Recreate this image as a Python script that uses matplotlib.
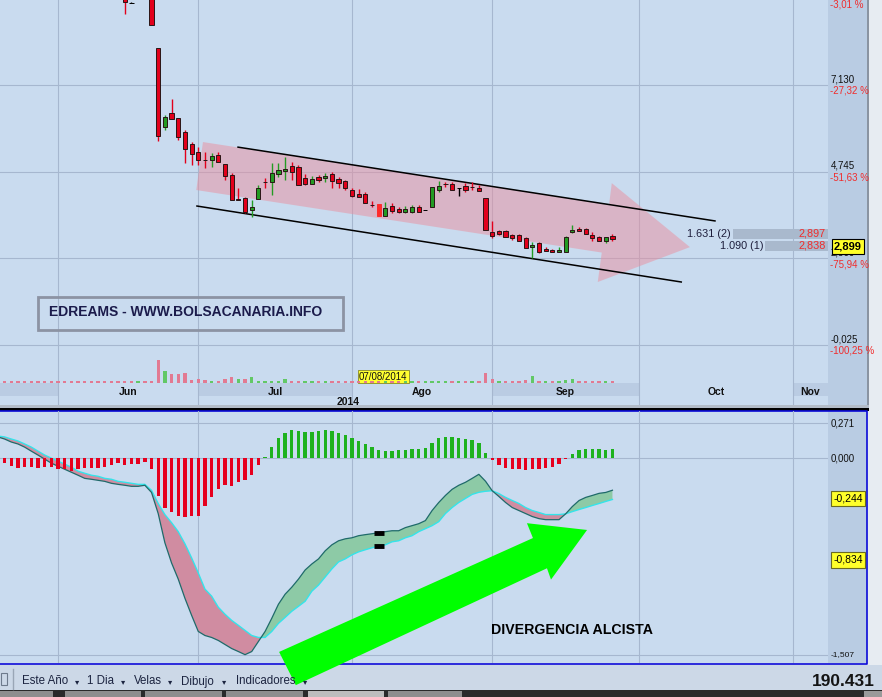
import matplotlib.pyplot as plt
import numpy as np
from matplotlib import font_manager
from matplotlib.patches import Rectangle, Polygon

# ---- data (x = trading day index, 0 = 2 Jun 2014) ----
day = np.arange(-9, 84)

opens = [10.35, 10.32, 10.28, 10.24, 10.20, 10.17, 10.15, 10.13, 10.11, 10.08, 10.05, 10.02, 9.99,
         9.96, 9.93, 9.90, 9.87, 9.84, 9.81, 9.74, 9.38, 9.50, 9.66, 9.60, 8.15, 5.97, 6.36, 6.22,
         5.84, 5.51, 5.29, 5.08, 5.08, 5.20, 4.96, 4.65, 3.98, 4.02, 3.69, 3.99, 4.47, 4.46, 4.68,
         4.76, 4.90, 4.87, 4.57, 4.41, 4.60, 4.57, 4.68, 4.54, 4.49, 4.24, 4.13, 4.13, 3.84, 3.86,
         3.53, 3.80, 3.72, 3.64, 3.64, 3.77, 3.69, 3.77, 4.24, 4.41, 4.41, 4.30, 4.35, 4.33, 4.30,
         4.02, 3.09, 3.11, 3.11, 3.00, 3.00, 2.92, 2.67, 2.78, 2.62, 2.59, 2.54, 2.54, 3.09, 3.17,
         3.17, 3.00, 2.95, 2.84, 2.98]
highs = [10.43, 10.40, 10.36, 10.32, 10.28, 10.25, 10.23, 10.21, 10.19, 10.16, 10.13, 10.10, 10.07,
         10.04, 10.01, 9.98, 9.95, 9.92, 9.89, 9.80, 9.40, 9.72, 9.80, 9.66, 8.15, 6.30, 6.75, 6.22,
         5.89, 5.56, 5.42, 5.29, 5.26, 5.29, 4.96, 4.71, 4.30, 4.05, 3.97, 4.38, 4.57, 4.98, 4.98,
         5.15, 5.01, 4.93, 4.68, 4.63, 4.65, 4.71, 4.74, 4.60, 4.52, 4.30, 4.27, 4.19, 3.94, 3.86,
         3.91, 3.88, 3.77, 3.80, 3.83, 3.83, 3.70, 4.32, 4.49, 4.46, 4.46, 4.30, 4.43, 4.46, 4.38,
         4.02, 3.39, 3.14, 3.14, 3.03, 3.03, 2.95, 2.81, 2.80, 2.67, 2.62, 2.67, 2.97, 3.28, 3.22,
         3.19, 3.09, 2.97, 2.95, 3.03]
lows = [10.22, 10.18, 10.14, 10.10, 10.07, 10.04, 10.02, 10.00, 9.97, 9.94, 9.91, 9.88, 9.85,
        9.82, 9.79, 9.76, 9.73, 9.70, 9.67, 9.08, 9.38, 9.50, 9.52, 8.78, 5.59, 5.89, 6.19, 5.62,
        4.98, 4.93, 4.93, 4.85, 4.87, 5.01, 4.52, 3.97, 3.96, 3.61, 3.50, 3.99, 4.30, 4.10, 4.60,
        4.52, 4.52, 4.38, 4.38, 4.41, 4.46, 4.46, 4.30, 4.30, 4.24, 4.05, 4.05, 3.88, 3.77, 3.53,
        3.53, 3.61, 3.61, 3.61, 3.61, 3.64, 3.68, 3.77, 4.19, 4.32, 4.24, 4.08, 4.19, 4.24, 4.21,
        3.14, 2.92, 3.00, 2.95, 2.87, 2.84, 2.65, 2.37, 2.50, 2.56, 2.53, 2.53, 2.53, 3.06, 3.11,
        3.03, 2.84, 2.84, 2.78, 2.84]
closes = [10.30, 10.26, 10.22, 10.18, 10.15, 10.12, 10.10, 10.08, 10.05, 10.02, 9.99, 9.96, 9.93,
          9.90, 9.87, 9.84, 9.81, 9.78, 9.75, 9.42, 9.38, 9.66, 9.60, 8.78, 5.73, 6.25, 6.19, 5.70,
          5.37, 5.23, 5.07, 5.06, 5.18, 5.01, 4.63, 3.97, 3.97, 3.64, 3.77, 4.30, 4.45, 4.71, 4.79,
          4.82, 4.74, 4.38, 4.41, 4.54, 4.52, 4.63, 4.49, 4.43, 4.30, 4.08, 4.05, 3.88, 3.83, 3.53,
          3.75, 3.66, 3.64, 3.72, 3.77, 3.64, 3.69, 4.32, 4.35, 4.40, 4.24, 4.30, 4.24, 4.32, 4.21,
          3.14, 2.98, 3.03, 2.95, 2.92, 2.84, 2.65, 2.73, 2.54, 2.56, 2.54, 2.59, 2.95, 3.14, 3.11,
          3.03, 2.92, 2.84, 2.95, 2.90]
volume = [0.34, 0.32, 0.34, 0.30, 0.34, 0.32, 0.34, 0.30, 0.34, 0.32, 0.34, 0.30, 0.34, 0.32, 0.34,
          0.30, 0.34, 0.32, 0.34, 0.36, 0.34, 0.32, 0.34, 0.40, 4.54, 2.34, 1.86, 1.86, 2.00, 0.54,
          0.74, 0.66, 0.40, 0.34, 0.74, 1.20, 0.80, 0.80, 1.20, 0.40, 0.40, 0.40, 0.34, 0.86, 0.34,
          0.34, 0.32, 0.34, 0.30, 0.34, 0.32, 0.34, 0.30, 0.34, 0.32, 0.34, 0.30, 0.34, 0.32, 0.34,
          0.30, 0.34, 0.32, 0.34, 0.30, 0.34, 0.32, 0.34, 0.30, 0.34, 0.32, 0.34, 0.30, 2.00, 0.86,
          0.34, 0.34, 0.46, 0.40, 0.66, 1.34, 0.40, 0.30, 0.30, 0.40, 0.66, 0.86, 0.30, 0.30, 0.30,
          0.30, 0.30, 0.30]
macd = [0.165, 0.149, 0.126, 0.111, 0.087, 0.056, 0.026, -0.005, -0.036, -0.060, -0.083, -0.106,
        -0.129, -0.153, -0.160, -0.168, -0.176, -0.191, -0.199, -0.206, -0.214, -0.214, -0.206,
        -0.261, -0.423, -0.647, -0.802, -0.926, -1.073, -1.204, -1.328, -1.359, -1.374, -1.397,
        -1.428, -1.459, -1.482, -1.506, -1.482, -1.405, -1.328, -1.227, -1.119, -1.042, -0.988,
        -0.926, -0.856, -0.810, -0.771, -0.709, -0.663, -0.632, -0.617, -0.609, -0.593, -0.585,
        -0.578, -0.570, -0.562, -0.555, -0.555, -0.531, -0.516, -0.501, -0.477, -0.400, -0.338,
        -0.284, -0.237, -0.206, -0.183, -0.153, -0.122, -0.175, -0.248, -0.292, -0.338, -0.377,
        -0.400, -0.423, -0.446, -0.462, -0.470, -0.470, -0.470, -0.425, -0.369, -0.323, -0.299,
        -0.284, -0.268, -0.261, -0.244]
signal = [0.172, 0.165, 0.149, 0.134, 0.111, 0.087, 0.056, 0.026, 0.002, -0.021, -0.044, -0.067,
          -0.098, -0.114, -0.129, -0.137, -0.153, -0.160, -0.176, -0.183, -0.191, -0.199, -0.199,
          -0.245, -0.346, -0.431, -0.493, -0.562, -0.655, -0.763, -0.879, -1.003, -1.057, -1.142,
          -1.196, -1.243, -1.281, -1.320, -1.359, -1.374, -1.374, -1.328, -1.266, -1.220, -1.173,
          -1.135, -1.096, -1.019, -0.972, -0.910, -0.848, -0.794, -0.771, -0.740, -0.717, -0.701,
          -0.686, -0.671, -0.663, -0.640, -0.632, -0.609, -0.593, -0.562, -0.539, -0.516, -0.485,
          -0.423, -0.377, -0.338, -0.307, -0.276, -0.260, -0.252, -0.248, -0.270, -0.299, -0.323,
          -0.346, -0.377, -0.400, -0.415, -0.431, -0.431, -0.431, -0.425, -0.408, -0.392, -0.377,
          -0.361, -0.346, -0.330, -0.315]
hist = [-0.030, -0.037, -0.058, -0.076, -0.066, -0.066, -0.071, -0.066, -0.066, -0.084, -0.084,
        -0.097, -0.084, -0.076, -0.076, -0.071, -0.066, -0.050, -0.032, -0.050, -0.045, -0.045,
        -0.025, -0.084, -0.290, -0.381, -0.414, -0.445, -0.453, -0.439, -0.445, -0.362, -0.295,
        -0.238, -0.207, -0.213, -0.182, -0.166, -0.130, -0.050, 0.014, 0.091, 0.156, 0.192, 0.218,
        0.213, 0.205, 0.205, 0.213, 0.218, 0.213, 0.195, 0.179, 0.156, 0.135, 0.110, 0.091, 0.066,
        0.058, 0.058, 0.066, 0.066, 0.076, 0.076, 0.079, 0.118, 0.156, 0.166, 0.161, 0.156, 0.148,
        0.141, 0.122, 0.040, -0.014, -0.053, -0.071, -0.079, -0.084, -0.091, -0.084, -0.084,
        -0.076, -0.063, -0.045, -0.002, 0.032, 0.066, 0.076, 0.076, 0.071, 0.066, 0.071]

month_start = [0, 21, 44, 65, 87, 110]
month_name = ['Jun', 'Jul', 'Ago', 'Sep', 'Oct', 'Nov']
price_ticks = [9.515, 7.130, 4.745, 2.360, -0.025]
ref_close = 9.81
macd_ticks = [0.271, 0.000, -1.507]
last_close = 2.899
selected = 48          # 07/08/2014
orders = [('1.631 (2)', '2,897'), ('1.090 (1)', '2,838')]
toolbar_items = ['Este Año', '1 Dia', 'Velas', 'Dibujo', 'Indicadores']

# hand-drawn objects (chart coordinates)
chan_up_x, chan_up_y = [26.95, 98.35], [5.42, 3.39]
chan_lo_x, chan_lo_y = [20.8, 93.3], [3.80, 1.71]
parrow_x = [21.7, 82.5, 82.9, 94.6, 80.8, 81.4, 20.7]
parrow_y = [5.56, 3.84, 4.43, 2.67, 1.71, 2.52, 4.24]
garrow_x = [33.1, 71.1, 70.2, 79.2, 73.8, 73.2, 35.6]
garrow_y = [-1.485, -0.611, -0.497, -0.549, -0.930, -0.843, -1.740]

# ---- style ----
W, H = 882, 697
XMIN, XMAX = -58 / 6.68, 770 / 6.68
PMIN, PMAX = -1.0686, 9.468
BG = '#c9dbef'
STRIP = '#b9cce3'
BAND = '#bacce3'
GRID = '#a6b7cf'
C_UP, C_DN, C_EDGE = '#239b23', '#e2001b', '#2a1515'
PCTRED = '#f02c2c'
BLUE = '#0a0ad8'

names = {f.name for f in font_manager.fontManager.ttflist}
plt.rcParams['font.family'] = ['Liberation Sans', 'DejaVu Sans']

fig = plt.figure(figsize=(W / 100, H / 100), dpi=100, facecolor='#e7ecf2')


def box(x0, y0, x1, y1):
    return [x0 / W, 1 - y1 / H, (x1 - x0) / W, (y1 - y0) / H]


bg = fig.add_axes([0, 0, 1, 1], zorder=-5)
fg = fig.add_axes([0, 0, 1, 1], zorder=20)
for a in (bg, fg):
    a.set_xlim(0, W)
    a.set_ylim(H, 0)
    a.axis('off')

# backgrounds and frame
bg.add_patch(Rectangle((0, 0), 828, 405, fc=BG, lw=0))
bg.add_patch(Rectangle((828, 0), 39, 407, fc=STRIP, lw=0))
bg.add_patch(Rectangle((867, 0), 2, 407, fc='#8a94a2', lw=0))
bg.add_patch(Rectangle((0, 404.5), 869, 3, fc='#b3bcc8', lw=0))
bg.add_patch(Rectangle((0, 407.5), 869, 3, fc='black', lw=0))
bg.add_patch(Rectangle((0, 411), 828, 252, fc=BG, lw=0))
bg.add_patch(Rectangle((828, 411), 39, 252, fc=STRIP, lw=0))
bg.plot([0, 867, 867, 0], [411, 411, 663.5, 663.5], color=BLUE, lw=1.2)
bg.add_patch(Rectangle((0, 664.5), W, 26, fc='#ccd8e7', lw=0))
bg.add_patch(Rectangle((0, 690), W, 7, fc='#2a2a2a', lw=0))
for x0, x1, fc in [(0, 53, '#8e8e8e'), (65, 141, '#8e8e8e'), (145, 222, '#8e8e8e'),
                   (226, 303, '#8e8e8e'), (308, 384, '#bdbdbd'), (388, 462, '#8e8e8e'),
                   (864, 882, '#9a9a9a')]:
    bg.add_patch(Rectangle((x0, 691), x1 - x0, 6, fc=fc, lw=0))


def bare(a):
    a.set_facecolor('none')
    for s in a.spines.values():
        s.set_visible(False)
    a.set_xticks([])
    a.set_yticks([])
    a.set_xlim(XMIN, XMAX)


ax_p = fig.add_axes(box(0, 0, 828, 383))
ax_v = fig.add_axes(box(0, 343, 828, 383))
ax_b = fig.add_axes(box(0, 383, 828, 405))
ax_m = fig.add_axes(box(0, 411, 828, 663))
for a in (ax_p, ax_v, ax_b, ax_m):
    bare(a)
ax_p.set_ylim(PMIN, PMAX)
ax_v.set_ylim(0, 8)
ax_b.set_ylim(0, 1)
ax_m.set_ylim(-1.570, 0.364)

# ---- gridlines ----
for v in price_ticks:
    ax_p.axhline(v, color=GRID, lw=0.8, zorder=0)
for v in macd_ticks:
    ax_m.axhline(v, color=GRID, lw=0.8, zorder=0)
for m in month_start:
    for a in (ax_p, ax_b, ax_m):
        a.axvline(m, color=GRID, lw=0.8, zorder=0.5)

# ---- x-axis band ----
edges = [XMIN] + month_start + [XMAX]
for i in range(0, len(edges) - 1, 2):
    ax_b.axvspan(edges[i], edges[i + 1], ymin=0.41, ymax=1, color=BAND, lw=0, zorder=0)
for i, name in enumerate(month_name):
    right = month_start[i + 1] if i + 1 < len(month_start) else XMAX
    ax_b.text((month_start[i] + right) / 2, 0.6, name, ha='center', va='center',
              fontsize=7.5, fontweight='bold', color='#111111')
ax_b.text(43.4, 0.12, '2014', ha='center', va='center', fontsize=7.5,
          fontweight='bold', color='#111111', clip_on=True)

# ---- price chart ----
ax_p.add_patch(Polygon(np.column_stack([parrow_x, parrow_y]), closed=True,
                       fc='#ea8f9e', alpha=0.5, lw=0, zorder=1))
ax_p.plot(chan_up_x, chan_up_y, color='black', lw=1.1, zorder=2)
ax_p.plot(chan_lo_x, chan_lo_y, color='black', lw=1.1, zorder=2)

o, h, l, c = (np.asarray(v) for v in (opens, highs, lows, closes))
face = np.where(c > o, C_UP, np.where(c < o, C_DN, 'black')).astype(object)
edge = np.where(c == o, 'black', C_EDGE).astype(object)
sel = day == selected
face[sel] = '#ff2b2b'
edge[sel] = '#ff2b2b'
ax_p.vlines(day, l, h, colors=list(face), lw=1.0, zorder=3)
ax_p.bar(day, c - o, bottom=o, width=0.62, color=list(face), edgecolor=list(edge),
         linewidth=0.7, zorder=4)

vol_up = np.r_[True, c[1:] >= c[:-1]]
ax_v.bar(day, volume, width=0.5, color=np.where(vol_up, '#62c866', '#e27a92'), lw=0)

tr = ax_p.get_yaxis_transform()
for v in price_ticks:
    if v < PMAX:
        ax_p.text(1.003, v + 0.02, f'{v:.3f}'.replace('.', ','), transform=tr, ha='left',
                  va='bottom', fontsize=7, color='#111111', clip_on=False)
    pct = (v / ref_close - 1) * 100
    ax_p.text(1.003, v - 0.02, f'{pct:.2f} %'.replace('.', ','), transform=tr, ha='left',
              va='top', fontsize=7, color=PCTRED, clip_on=False)

ax_p.text(selected + 0.7, 0.016, '07/08/2014', transform=ax_p.get_xaxis_transform(),
          ha='center', va='center', fontsize=7, color='#111111', zorder=6,
          bbox=dict(boxstyle='square,pad=0.15', fc='#ffff30', ec='#8a8a20', lw=0.6))

# order rows and last price
for k, (qty, px) in enumerate(orders):
    y = 234 + 12 * k
    x0 = 733 + 32 * k
    fg.add_patch(Rectangle((x0, y - 5), 828 - x0, 10, fc='#a9b9cd', lw=0))
    fg.text(x0 - 2, y, qty, ha='right', va='center', fontsize=7.8, color='#1e1e3c')
    fg.text(826, y, px, ha='right', va='center', fontsize=7.8, color=PCTRED)
fg.text(848, 246.5, f'{last_close:.3f}'.replace('.', ','), ha='center', va='center',
        fontsize=8, fontweight='bold', color='black',
        bbox=dict(boxstyle='square,pad=0.2', fc='#ffff2a', ec='black', lw=0.8))

# title box
fg.add_patch(Rectangle((38, 297), 305, 33, fill=False, ec='#8c93a3', lw=2))
fg.text(186, 312, 'EDREAMS - WWW.BOLSACANARIA.INFO', ha='center', va='center',
        fontsize=10, fontweight='bold', color='#1b1b4b')

# ---- MACD ----
m, s, hv = (np.asarray(v) for v in (macd, signal, hist))
ax_m.fill_between(day, m, s, where=m >= s, interpolate=True, color='#8dcaa6', lw=0, zorder=1)
ax_m.fill_between(day, m, s, where=m < s, interpolate=True, color='#d08ca1', lw=0, zorder=1)
ax_m.plot(day, s, color='#34e4ea', lw=1.0, zorder=2)
ax_m.plot(day, m, color='#1f6a6a', lw=0.9, zorder=2)
ax_m.bar(day, hv, width=0.5, color=np.where(hv >= 0, '#1eb21e', '#e6001e'), lw=0, zorder=3)
ax_m.plot([selected, selected], [m[sel][0], s[sel][0]], ls='none', marker='_', ms=7,
          mew=3.5, color='black', zorder=4)
ax_m.add_patch(Polygon(np.column_stack([garrow_x, garrow_y]), closed=True, fc='#00ff00',
                       lw=0, zorder=5, clip_on=False))

trm = ax_m.get_yaxis_transform()
for v in macd_ticks:
    ax_m.text(1.003, v, f'{v:.3f}'.replace('.', ','), transform=trm, ha='left', va='center',
              fontsize=7 if v > -1 else 6, color='#111111', clip_on=False)
for lab, y in [(f'{macd[-1]:.3f}', 498.5), ('-0.834', 560)]:
    fg.text(848, y, lab.replace('.', ','), ha='center', va='center', fontsize=7.5,
            color='black', bbox=dict(boxstyle='square,pad=0.25', fc='#ffff2a', ec='#6a6a20', lw=0.8))

fg.text(572, 630, 'DIVERGENCIA ALCISTA', ha='center', va='center', fontsize=10.2,
        fontweight='bold', color='black')

# ---- toolbar ----
if 'Liberation Sans Narrow' in names:
    tb_font = dict(family=['Liberation Sans Narrow', 'DejaVu Sans'], fontsize=10)
else:
    tb_font = dict(fontsize=8.3)
fg.add_patch(Rectangle((1, 673), 6, 12, fill=False, ec='#6d7a8c', lw=0.8))
fg.plot([13, 13], [669, 689], color='#9aa6b6', lw=1)
for name, x, xt in zip(toolbar_items, [22, 87, 134, 181, 236], [77, 123, 170, 224, 305]):
    fg.text(x, 681.5, name, ha='left', va='center', color='#1c2440', **tb_font)
    fg.text(xt, 681.5, '▾', ha='center', va='center', fontsize=6, color='#1c2440',
            family=['DejaVu Sans'])
fg.text(875, 681.5, '190.431', ha='right', va='center', fontsize=12.5, fontweight='bold',
        color='#141414')

fig.savefig('out.png', dpi=100, facecolor=fig.get_facecolor())
